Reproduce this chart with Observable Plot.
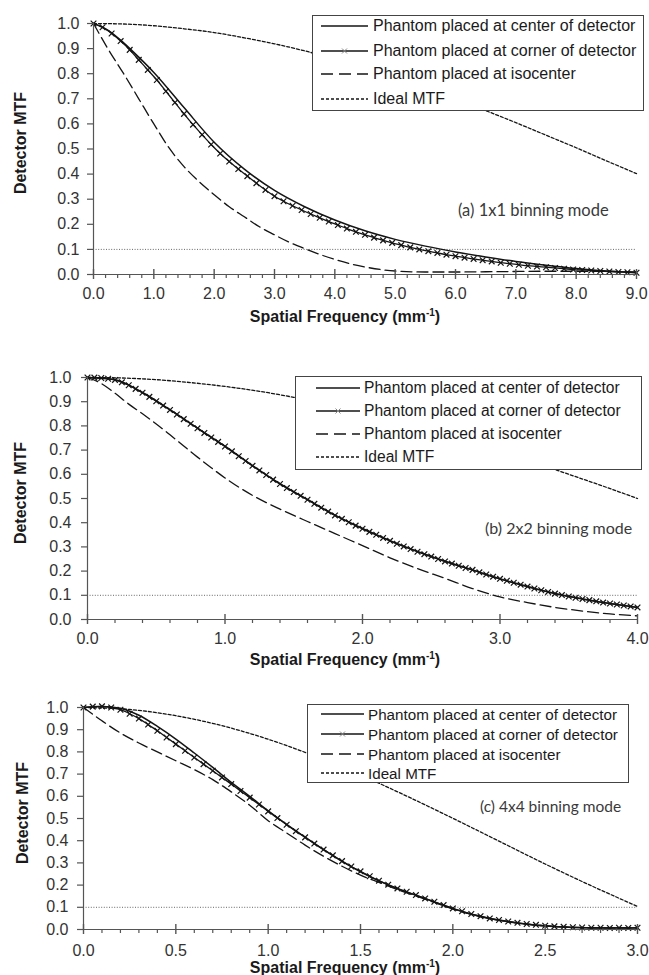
<!DOCTYPE html>
<html>
<head>
<meta charset="utf-8">
<script src="https://cdn.jsdelivr.net/npm/d3@7"></script>
<script src="https://cdn.jsdelivr.net/npm/@observablehq/plot@0.6"></script>
<style>
  body { margin: 0; background: #fff; }
  #root { position: relative; width: 649px; height: 975px; overflow: hidden; background: #fff;
          font-family: "Liberation Sans", Arial, sans-serif; }
  .panel { position: absolute; left: 0; }
  .legend { position: absolute; border: 1px solid #444; background: #fff; box-sizing: border-box; }
  .lrow { position: absolute; display: flex; align-items: center; white-space: nowrap; color: #1a1a1a; }
  .lrow svg { display: block; }
  .note { position: absolute; font-family: Lato, "Open Sans", sans-serif; color: #3a3a3a; white-space: nowrap; transform: translateY(-50%); }
  .ytitle, .xtitle { position: absolute; font-weight: bold; white-space: nowrap; color: #1a1a1a; font-size: 16px; }
  .ytitle { transform: translate(-50%, -50%) rotate(-90deg); }
  .xtitle { transform: translate(-50%, -50%); }
  .xtitle sup { font-size: 10px; vertical-align: 6px; line-height: 0; }
</style>
</head>
<body>
<div id="root"></div>
<script>
// ---------- data: [spatial frequency (mm^-1), MTF] ----------
const yTicks = [0, 0.1, 0.2, 0.3, 0.4, 0.5, 0.6, 0.7, 0.8, 0.9, 1.0];
const xTicksA = [0, 1, 2, 3, 4, 5, 6, 7, 8, 9];
const xTicksB = [0, 1, 2, 3, 4];
const xTicksC = [0, 0.5, 1, 1.5, 2, 2.5, 3];

const legendLabels = [
  "Phantom placed at center of detector",
  "Phantom placed at corner of detector",
  "Phantom placed at isocenter",
  "Ideal MTF"
];
const noteLabels = ["(a) 1x1 binning mode", "(b) 2x2 binning mode", "(c) 4x4 binning mode"];

// (a) 1x1 binning
const idealA = [[0,1],[0.5,0.998],[1,0.991],[1.5,0.979],[2,0.964],[2.5,0.943],[3,0.919],[3.5,0.891],[4,0.858],[4.5,0.823],[5,0.784],[5.5,0.743],[6,0.699],[6.5,0.653],[7,0.605],[7.5,0.555],[8,0.505],[8.5,0.453],[9,0.402]];
const centerA = [[0,1],[0.25,0.972],[0.5,0.923],[0.75,0.866],[1,0.805],[1.5,0.665],[2,0.527],[2.5,0.42],[3,0.335],[3.5,0.27],[4,0.217],[4.5,0.174],[5,0.14],[5.5,0.113],[6,0.09],[6.5,0.07],[7,0.052],[7.5,0.037],[8,0.024],[8.5,0.014],[9,0.008]];
const cornerA = [[0,1.000],[0.15,0.985],[0.3,0.960],[0.45,0.930],[0.6,0.895],[0.75,0.855],[0.9,0.815],[1.05,0.775],[1.2,0.730],[1.35,0.685],[1.5,0.640],[1.65,0.597],[1.8,0.557],[1.95,0.518],[2.1,0.482],[2.25,0.450],[2.4,0.420],[2.55,0.392],[2.7,0.364],[2.85,0.337],[3.0,0.312],[3.15,0.292],[3.3,0.274],[3.45,0.257],[3.6,0.241],[3.75,0.226],[3.9,0.211],[4.05,0.197],[4.2,0.183],[4.35,0.170],[4.5,0.158],[4.65,0.147],[4.8,0.136],[4.95,0.126],[5.1,0.117],[5.25,0.108],[5.4,0.100],[5.55,0.093],[5.7,0.086],[5.85,0.079],[6.0,0.073],[6.15,0.067],[6.3,0.062],[6.45,0.057],[6.6,0.052],[6.75,0.047],[6.9,0.043],[7.05,0.039],[7.2,0.035],[7.35,0.032],[7.5,0.029],[7.65,0.026],[7.8,0.023],[7.95,0.020],[8.1,0.018],[8.25,0.016],[8.4,0.014],[8.55,0.012],[8.7,0.010],[8.85,0.009],[9.0,0.007]];
const isoA = [[0,1.0],[0.25,0.895],[0.5,0.8],[0.75,0.7],[1.0,0.6],[1.25,0.505],[1.5,0.43],[1.75,0.37],[2.0,0.318],[2.25,0.27],[2.5,0.23],[2.75,0.19],[3.0,0.158],[3.25,0.128],[3.5,0.103],[3.75,0.08],[4.0,0.06],[4.25,0.043],[4.5,0.03],[4.75,0.02],[5.0,0.014],[5.5,0.01],[6.0,0.01],[6.5,0.011],[7.0,0.012],[7.5,0.013],[8.0,0.013],[8.5,0.012],[9.0,0.01]];

// (b) 2x2 binning
const idealB = [[0,1],[0.25,0.998],[0.5,0.991],[0.75,0.979],[1,0.963],[1.25,0.943],[1.5,0.918],[1.75,0.889],[2,0.857],[2.25,0.821],[2.5,0.782],[2.75,0.740],[3,0.695],[3.25,0.649],[3.5,0.600],[3.75,0.551],[4,0.500]];
const centerB = [[0,1.000],[0.2,0.991],[0.4,0.938],[0.6,0.867],[0.8,0.791],[1.0,0.716],[1.2,0.636],[1.4,0.561],[1.6,0.496],[1.8,0.431],[2.0,0.376],[2.2,0.326],[2.4,0.281],[2.6,0.241],[2.8,0.205],[3.0,0.168],[3.2,0.136],[3.4,0.107],[3.6,0.085],[3.8,0.066],[4.0,0.050]];
const cornerB = [[0,1.000],[0.05,0.9995],[0.1,0.998],[0.15,0.995],[0.2,0.990],[0.25,0.980],[0.3,0.968],[0.35,0.953],[0.4,0.937],[0.45,0.920],[0.5,0.902],[0.55,0.884],[0.6,0.866],[0.65,0.847],[0.7,0.828],[0.75,0.809],[0.8,0.790],[0.85,0.771],[0.9,0.752],[0.95,0.734],[1.0,0.715],[1.05,0.695],[1.1,0.675],[1.15,0.655],[1.2,0.635],[1.25,0.616],[1.3,0.597],[1.35,0.578],[1.4,0.560],[1.45,0.543],[1.5,0.527],[1.55,0.511],[1.6,0.495],[1.65,0.478],[1.7,0.462],[1.75,0.446],[1.8,0.430],[1.85,0.416],[1.9,0.402],[1.95,0.388],[2.0,0.375],[2.05,0.362],[2.1,0.350],[2.15,0.337],[2.2,0.325],[2.25,0.313],[2.3,0.302],[2.35,0.291],[2.4,0.280],[2.45,0.270],[2.5,0.260],[2.55,0.250],[2.6,0.240],[2.65,0.231],[2.7,0.222],[2.75,0.213],[2.8,0.205],[2.85,0.195],[2.9,0.186],[2.95,0.177],[3.0,0.168],[3.05,0.160],[3.1,0.152],[3.15,0.144],[3.2,0.136],[3.25,0.128],[3.3,0.121],[3.35,0.114],[3.4,0.107],[3.45,0.101],[3.5,0.095],[3.55,0.090],[3.6,0.085],[3.65,0.080],[3.7,0.075],[3.75,0.070],[3.8,0.066],[3.85,0.062],[3.9,0.058],[3.95,0.054],[4.0,0.050]];
const isoB = [[0,1.0],[0.1,0.975],[0.2,0.935],[0.3,0.89],[0.4,0.85],[0.5,0.808],[0.6,0.763],[0.7,0.717],[0.8,0.671],[0.9,0.627],[1.0,0.585],[1.1,0.547],[1.2,0.513],[1.3,0.483],[1.4,0.456],[1.5,0.43],[1.6,0.405],[1.8,0.355],[2.0,0.305],[2.2,0.255],[2.4,0.21],[2.6,0.17],[2.8,0.128],[3.0,0.093],[3.2,0.07],[3.4,0.05],[3.6,0.035],[3.8,0.023],[4.0,0.015]];

// (c) 4x4 binning
const idealC = [[0,1],[0.25,0.991],[0.5,0.963],[0.75,0.918],[1,0.857],[1.25,0.782],[1.5,0.696],[1.75,0.601],[2,0.501],[2.25,0.398],[2.5,0.295],[2.75,0.197],[3,0.104]];
const centerC = [[0,1.0],[0.1,1.005],[0.2,0.997],[0.3,0.965],[0.4,0.915],[0.5,0.858],[0.6,0.795],[0.7,0.73],[0.8,0.663],[0.9,0.6],[1.0,0.535],[1.1,0.474],[1.2,0.416],[1.3,0.36],[1.4,0.307],[1.5,0.26],[1.6,0.219],[1.7,0.184],[1.8,0.154],[1.9,0.124],[2.0,0.094],[2.1,0.069],[2.2,0.05],[2.3,0.035],[2.4,0.024],[2.5,0.016],[2.6,0.011],[2.7,0.008],[2.8,0.007],[2.9,0.007],[3.0,0.007]];
const cornerC = [[0,1.000],[0.05,1.004],[0.1,1.005],[0.15,1.000],[0.2,0.990],[0.25,0.972],[0.3,0.950],[0.35,0.923],[0.4,0.895],[0.45,0.865],[0.5,0.835],[0.55,0.805],[0.6,0.775],[0.65,0.745],[0.7,0.715],[0.75,0.685],[0.8,0.655],[0.85,0.624],[0.9,0.594],[0.95,0.563],[1.0,0.532],[1.05,0.502],[1.1,0.472],[1.15,0.443],[1.2,0.415],[1.25,0.387],[1.3,0.360],[1.35,0.334],[1.4,0.308],[1.45,0.284],[1.5,0.262],[1.55,0.240],[1.6,0.220],[1.65,0.202],[1.7,0.185],[1.75,0.170],[1.8,0.155],[1.85,0.140],[1.9,0.125],[1.95,0.110],[2.0,0.095],[2.05,0.082],[2.1,0.070],[2.15,0.060],[2.2,0.050],[2.25,0.043],[2.3,0.036],[2.35,0.030],[2.4,0.025],[2.45,0.021],[2.5,0.017],[2.55,0.014],[2.6,0.012],[2.65,0.010],[2.7,0.009],[2.75,0.008],[2.8,0.008],[2.85,0.007],[2.9,0.008],[2.95,0.007],[3.0,0.008]];
const isoC = [[0,1.0],[0.1,0.94],[0.2,0.885],[0.3,0.84],[0.4,0.8],[0.5,0.76],[0.6,0.72],[0.7,0.675],[0.8,0.62],[0.9,0.56],[1.0,0.49],[1.1,0.435],[1.2,0.38],[1.3,0.33],[1.4,0.285],[1.5,0.245],[1.6,0.212],[1.7,0.18],[1.8,0.151],[1.9,0.122],[2.0,0.093],[2.1,0.068],[2.2,0.049],[2.3,0.035],[2.4,0.024],[2.5,0.016],[2.6,0.011],[2.7,0.008],[2.8,0.007],[2.9,0.007],[3.0,0.007]];

const thresholdMTF = 0.1;

// ---------- layout ----------
const panels = [
  { top: 0, height: 325, left: 93, right: 636, plotTop: 23, plotBottom: 274, xmax: 9,
    ticks: xTicksA, minorStep: 0.2, ideal: idealA, center: centerA, corner: cornerA, iso: isoA,
    yPad: 8, xPad: 13, note: noteLabels[0], noteX: 458, noteY: 210, noteSize: 16.5,
    legend: { x: 312, y: 15, w: 332, h: 96, rows: [26, 51, 74, 99], lx0: 321, lx1: 368, tx: 373, size: 16 },
    ytitle: [21, 143], xtitle: [345, 317] },
  { top: 325, height: 345, left: 87, right: 637, plotTop: 377, plotBottom: 619, xmax: 4,
    ticks: xTicksB, minorStep: 0.2, ideal: idealB, center: centerB, corner: cornerB, iso: isoB,
    yPad: 10, xPad: 13, note: noteLabels[1], noteX: 485, noteY: 527, noteSize: 16,
    legend: { x: 295, y: 376, w: 347, h: 94, rows: [388, 411, 434, 457], lx0: 316, lx1: 360, tx: 364, size: 15.6 },
    ytitle: [21, 493], xtitle: [345, 660] },
  { top: 670, height: 305, left: 83, right: 637, plotTop: 707, plotBottom: 929, xmax: 3,
    ticks: xTicksC, minorStep: 0.1, ideal: idealC, center: centerC, corner: cornerC, iso: isoC,
    yPad: 9, xPad: 15, note: noteLabels[2], noteX: 480, noteY: 806, noteSize: 15.5,
    legend: { x: 307, y: 704, w: 322, h: 79, rows: [714, 734, 754, 773], lx0: 321, lx1: 364, tx: 368, size: 15.2 },
    ytitle: [23, 813], xtitle: [345, 968] }
];

const root = document.getElementById("root");
const toObj = a => a.map(([f, v]) => ({f, v}));
const fmt = d3.format(".1f");
const AX = "#555";
const INK = "#141414";

function makePlot(p) {
  const minor = d3.range(0, p.xmax + 1e-9, p.minorStep).filter(t => !p.ticks.some(m => Math.abs(m - t) < 1e-6));
  const curve = "monotone-x";
  return Plot.plot({
    width: 649,
    height: p.height,
    marginLeft: p.left,
    marginRight: 649 - p.right,
    marginTop: p.plotTop - p.top,
    marginBottom: p.top + p.height - p.plotBottom,
    style: { fontFamily: "'Liberation Sans', Arial, sans-serif", fontSize: "16px", color: "#333", background: "transparent", overflow: "visible" },
    x: { domain: [0, p.xmax], label: null },
    y: { domain: [0, 1], label: null },
    marks: [
      Plot.ruleY([thresholdMTF], { stroke: "#666", strokeWidth: 1, strokeDasharray: "1,1.6" }),
      Plot.line(toObj(p.ideal), { x: "f", y: "v", stroke: INK, strokeWidth: 1.3, strokeDasharray: "3,2", curve }),
      Plot.line(toObj(p.iso), { x: "f", y: "v", stroke: INK, strokeWidth: 1.3, strokeDasharray: "11,5", curve }),
      Plot.line(toObj(p.center), { x: "f", y: "v", stroke: INK, strokeWidth: 1.5, curve }),
      Plot.line(toObj(p.corner), { x: "f", y: "v", stroke: INK, strokeWidth: 1.3, curve }),
      Plot.dot(toObj(p.corner), { x: "f", y: "v", symbol: "times", r: 2.7, stroke: INK, strokeWidth: 1.2 }),
      Plot.axisY({ ticks: yTicks, tickFormat: fmt, tickSize: 6, tickPadding: p.yPad, stroke: AX, fill: "#333", label: null, strokeWidth: 1.2 }),
      // major x ticks crossing the axis, minor ticks below it
      Plot.ruleX(p.ticks, { x: d => d, y1: 0, y2: 0, stroke: AX, strokeWidth: 1.4, insetTop: -5, insetBottom: -5 }),
      Plot.ruleX(minor, { x: d => d, y1: 0, y2: 0, stroke: AX, strokeWidth: 1.2, insetBottom: -4 }),
      Plot.axisX({ ticks: p.ticks, tickSize: 0, tickPadding: p.xPad, tickFormat: fmt, fill: "#333", label: null }),
      Plot.ruleX([0], { stroke: AX, strokeWidth: 1.2 }),
      Plot.ruleY([0], { stroke: AX, strokeWidth: 1.2 })
    ]
  });
}

function swatch(i, w, h) {
  const y = h / 2;
  let s = `<svg width="${w}" height="${h}">`;
  if (i === 0) s += `<line x1="0" x2="${w}" y1="${y}" y2="${y}" stroke="${INK}" stroke-width="1.5"/>`;
  if (i === 1) {
    const c = w / 2;
    s += `<line x1="0" x2="${w}" y1="${y}" y2="${y}" stroke="${INK}" stroke-width="1.3"/>`;
    s += `<path d="M${c-2.5},${y-2.5}L${c+2.5},${y+2.5}M${c-2.5},${y+2.5}L${c+2.5},${y-2.5}" stroke="#888" stroke-width="1"/>`;
  }
  if (i === 2) s += `<line x1="0" x2="${w}" y1="${y}" y2="${y}" stroke="${INK}" stroke-width="1.3" stroke-dasharray="12,6"/>`;
  if (i === 3) s += `<line x1="0" x2="${w}" y1="${y}" y2="${y}" stroke="${INK}" stroke-width="1.3" stroke-dasharray="3,2"/>`;
  return s + `</svg>`;
}

panels.forEach(p => {
  const wrap = document.createElement("div");
  wrap.className = "panel";
  wrap.style.top = p.top + "px";
  wrap.appendChild(makePlot(p));
  root.appendChild(wrap);

  // legend
  const L = p.legend;
  const box = document.createElement("div");
  box.className = "legend";
  Object.assign(box.style, { left: L.x + "px", top: L.y + "px", width: L.w + "px", height: L.h + "px" });
  const rh = 20;
  legendLabels.forEach((lab, i) => {
    const row = document.createElement("div");
    row.className = "lrow";
    Object.assign(row.style, { left: (L.lx0 - L.x - 1) + "px", top: (L.rows[i] - L.y - 1 - rh / 2) + "px", height: rh + "px", fontSize: L.size + "px" });
    row.innerHTML = swatch(i, L.lx1 - L.lx0, rh) + `<span style="margin-left:${L.tx - L.lx1}px">${lab}</span>`;
    box.appendChild(row);
  });
  root.appendChild(box);

  // annotation
  const note = document.createElement("div");
  note.className = "note";
  Object.assign(note.style, { left: p.noteX + "px", top: p.noteY + "px", fontSize: p.noteSize + "px" });
  note.textContent = p.note;
  root.appendChild(note);

  // axis titles
  const yt = document.createElement("div");
  yt.className = "ytitle";
  Object.assign(yt.style, { left: p.ytitle[0] + "px", top: p.ytitle[1] + "px" });
  yt.textContent = "Detector MTF";
  root.appendChild(yt);

  const xt = document.createElement("div");
  xt.className = "xtitle";
  Object.assign(xt.style, { left: p.xtitle[0] + "px", top: p.xtitle[1] + "px" });
  xt.innerHTML = "Spatial Frequency (mm<sup>-1</sup>)";
  root.appendChild(xt);
});
</script>
</body>
</html>
